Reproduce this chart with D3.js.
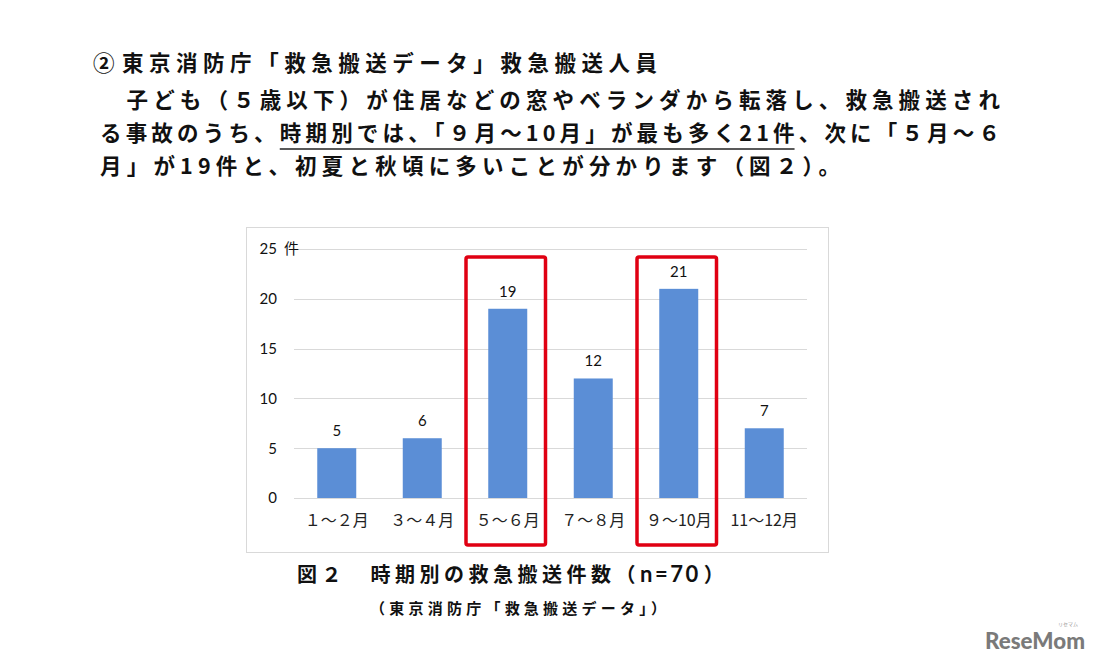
<!DOCTYPE html>
<html>
<head>
<meta charset="utf-8">
<script src="https://cdn.jsdelivr.net/npm/d3@7"></script>
<style>
  html, body { margin: 0; padding: 0; background: #fff; }
  svg { display: block; }
  .jp { font-family: "Noto Sans CJK JP", sans-serif; }
  .num { font-family: Lato, "Noto Sans CJK JP", sans-serif; }
</style>
</head>
<body>
<div id="chart"></div>
<script>
// data
const categories = ['１～２月', '３～４月', '５～６月', '７～８月', '９～10月', '11～12月'];
const counts = [5, 6, 19, 12, 21, 7];
const yTicks = [0, 5, 10, 15, 20, 25];
const highlighted = ['５～６月', '９～10月'];

const headMark = '②';
const textLines = [
  '東京消防庁「救急搬送データ」救急搬送人員',
  '　子ども（５歳以下）が住居などの窓やベランダから転落し、救急搬送され',
  'る事故のうち、時期別では、「９月～10月」が最も多く21件、次に「５月～６',
  '月」が19件と、初夏と秋頃に多いことが分かります（図２）。'
];
const underlined = '時期別では、「９月～10月」が最も多く21件';
const captionHead = '図２　時期別の救急搬送件数（';
const captionN = 'n=70';
const captionTail = '）';
const source = '（東京消防庁「救急搬送データ」）';

const W = 1093, H = 663;
const svg = d3.select('#chart').append('svg')
  .attr('width', W)
  .attr('height', H);

// paragraph text
svg.append('text')
  .attr('class', 'jp')
  .attr('x', 93).attr('y', 71)
  .attr('font-size', 21.5)
  .attr('font-weight', 700)
  .attr('fill', '#111')
  .text(headMark);

const lineLayout = [
  { x: 122, y: 71, len: 535 },
  { x: 100, y: 108, len: 900 },
  { x: 100, y: 141, len: 900 },
  { x: 100, y: 174, len: 740 }
];
textLines.forEach((t, i) => {
  const l = lineLayout[i];
  const el = svg.append('text')
    .attr('class', 'jp')
    .attr('x', l.x)
    .attr('y', l.y)
    .attr('font-size', 21.5)
    .attr('font-weight', 700)
    .attr('fill', '#111')
    .attr('textLength', l.len)
    .attr('lengthAdjust', 'spacing')
    .text(t);

  const k = t.indexOf(underlined);
  if (k >= 0) {
    const node = el.node();
    const x0 = node.getStartPositionOfChar(k).x;
    const x1 = node.getEndPositionOfChar(k + underlined.length - 1).x;
    svg.append('line')
      .attr('x1', x0).attr('x2', x1)
      .attr('y1', l.y + 8).attr('y2', l.y + 8)
      .attr('stroke', '#222')
      .attr('stroke-width', 1.5);
  }
});

// chart frame
svg.append('rect')
  .attr('x', 246.5).attr('y', 227.5)
  .attr('width', 582).attr('height', 325)
  .attr('fill', '#fff')
  .attr('stroke', '#d9d9d9');

const x = d3.scaleBand()
  .domain(categories)
  .range([294, 807])
  .paddingInner(0.544)
  .paddingOuter(0.272);

const y = d3.scaleLinear().domain([0, 25]).range([498, 249]);

// gridlines
svg.append('g')
  .selectAll('line')
  .data(yTicks)
  .join('line')
  .attr('x1', 294).attr('x2', 807)
  .attr('y1', d => Math.round(y(d)) + 0.5)
  .attr('y2', d => Math.round(y(d)) + 0.5)
  .attr('stroke', '#d9d9d9')
  .attr('stroke-width', 1.2);

// y axis labels
const yAxis = svg.append('g')
  .attr('transform', 'translate(294,0)')
  .call(d3.axisLeft(y).tickValues(yTicks).tickSize(0).tickPadding(17));
yAxis.select('.domain').remove();
yAxis.selectAll('text')
  .attr('class', 'num')
  .attr('font-size', 15)
  .attr('fill', '#111');

svg.append('text')
  .attr('class', 'jp')
  .attr('x', 284)
  .attr('y', y(25))
  .attr('dy', '0.35em')
  .attr('font-size', 15)
  .attr('fill', '#111')
  .text('件');

// bars
svg.append('g')
  .selectAll('rect')
  .data(counts)
  .join('rect')
  .attr('x', (d, i) => x(categories[i]))
  .attr('y', d => y(d))
  .attr('width', x.bandwidth())
  .attr('height', d => y(0) - y(d))
  .attr('fill', '#5b8ed6');

// value labels
svg.append('g')
  .selectAll('text')
  .data(counts)
  .join('text')
  .attr('class', 'num')
  .attr('x', (d, i) => x(categories[i]) + x.bandwidth() / 2)
  .attr('y', d => y(d) - 12)
  .attr('text-anchor', 'middle')
  .attr('font-size', 15)
  .attr('fill', '#111')
  .text(d => d);

// x axis labels
const xAxis = svg.append('g')
  .attr('transform', `translate(0,${y(0)})`)
  .call(d3.axisBottom(x).tickSize(0).tickPadding(17));
xAxis.select('.domain').remove();
xAxis.selectAll('text')
  .attr('class', 'jp')
  .attr('font-size', 16)
  .attr('fill', '#222');

// red highlight boxes
const step = x.step();
const outer = (step - x.bandwidth()) / 2;
svg.append('g')
  .selectAll('rect')
  .data(highlighted)
  .join('rect')
  .attr('x', d => x(d) - outer + 1)
  .attr('y', y(25) + 8)
  .attr('width', step - 6)
  .attr('height', y(0) + 47 - (y(25) + 8))
  .attr('rx', 2)
  .attr('fill', 'none')
  .attr('stroke', '#e00012')
  .attr('stroke-width', 3.5);

// caption
const cap = svg.append('text')
  .attr('class', 'jp')
  .attr('x', 297).attr('y', 582)
  .attr('font-size', 20)
  .attr('font-weight', 700)
  .attr('fill', '#111');
cap.append('tspan').attr('letter-spacing', 4.5).text(captionHead);
cap.append('tspan').attr('letter-spacing', 2.5).attr('font-size', 22)
  .attr('font-family', 'Lato, sans-serif').text(captionN);
cap.append('tspan').attr('dx', 3).text(captionTail);

svg.append('text')
  .attr('class', 'jp')
  .attr('x', 370).attr('y', 614)
  .attr('font-size', 15)
  .attr('font-weight', 700)
  .attr('fill', '#111')
  .attr('textLength', 296)
  .attr('lengthAdjust', 'spacing')
  .text(source);

// watermark
svg.append('text')
  .attr('x', 985).attr('y', 649)
  .attr('font-family', 'Lato, "DejaVu Sans", sans-serif')
  .attr('font-weight', 900)
  .attr('font-size', 22)
  .attr('fill', '#7a7a7a')
  .attr('textLength', 100)
  .attr('lengthAdjust', 'spacingAndGlyphs')
  .text('ReseMom');
svg.append('text')
  .attr('class', 'jp')
  .attr('x', 1058).attr('y', 626)
  .attr('font-size', 5)
  .attr('fill', '#999')
  .text('リセマム');
</script>
</body>
</html>
